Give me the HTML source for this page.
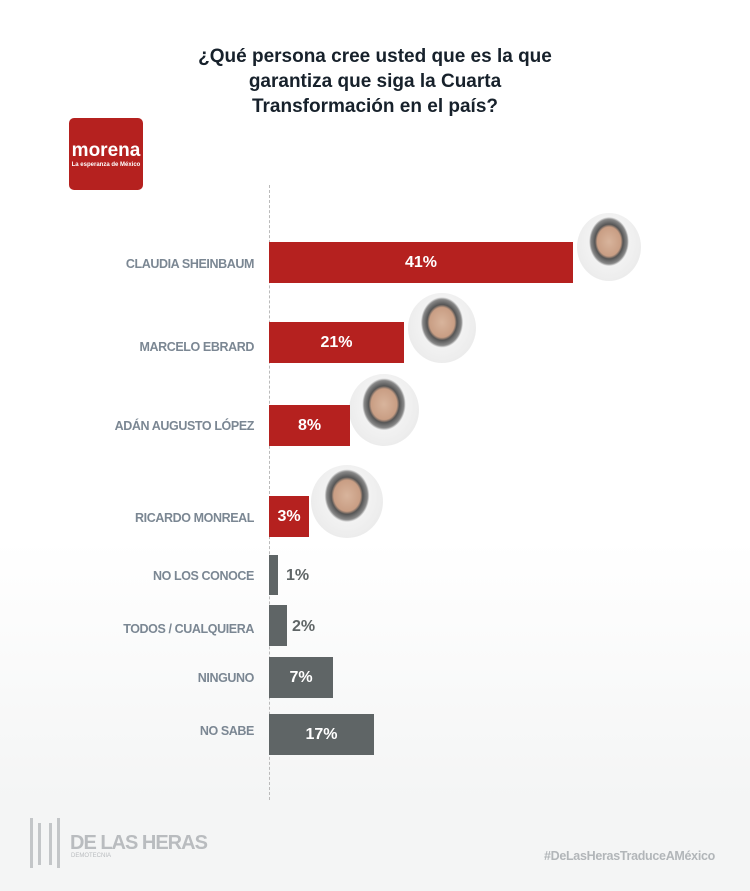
<!DOCTYPE html>
<html><head><meta charset="utf-8"><style>
body{margin:0}
.p{position:relative;width:750px;height:891px;overflow:hidden;background:linear-gradient(#fff 0,#fff 540px,#f4f5f5 800px,#f4f5f5 891px);font-family:"Liberation Sans",sans-serif}
.t{position:absolute;left:0;width:750px;top:44px;text-align:center;font-weight:bold;font-size:19px;line-height:25px;color:#17212b}
.lbl{position:absolute;right:496px;font-size:12.5px;font-weight:bold;color:#7b8793;white-space:nowrap;letter-spacing:-0.4px}
.bar{position:absolute;left:269px;color:#fff;font-weight:bold;font-size:16px;display:flex;align-items:center;justify-content:center}
.r{background:#b5211f}.g{background:#5f6566}
.out{position:absolute;font-weight:bold;font-size:16px;color:#5f6566}
.ph{position:absolute;border-radius:50%;background:radial-gradient(ellipse at 50% 42%,#d8b49c 0,#c99e84 26%,#555 31%,#888 40%,#f2f2f2 44%,#e6e6e6 100%)}
</style></head><body><div class="p">
<div class="t">¿Qué persona cree usted que es la que<br>garantiza que siga la Cuarta<br>Transformación en el país?</div>
<div style="position:absolute;left:69px;top:118px;width:74px;height:72px;background:#b5211f;border-radius:5px;color:#fff;text-align:center">
<div style="font-weight:bold;font-size:19px;margin-top:23px;line-height:20px">morena</div>
<div style="font-size:6px;font-weight:bold;line-height:8px">La esperanza de México</div></div>
<div style="position:absolute;left:269px;top:185px;height:615px;border-left:1px dashed #bbb"></div>

<div class="ph" style="left:577px;top:213px;width:64px;height:68px"></div>
<div class="ph" style="left:408px;top:293px;width:68px;height:70px"></div>
<div class="ph" style="left:349px;top:374px;width:70px;height:72px"></div>
<div class="ph" style="left:311px;top:465px;width:72px;height:73px"></div>

<div class="lbl" style="top:257px">CLAUDIA SHEINBAUM</div>
<div class="bar r" style="top:242px;width:304px;height:41px">41%</div>
<div class="lbl" style="top:340px">MARCELO EBRARD</div>
<div class="bar r" style="top:322px;width:135px;height:41px">21%</div>
<div class="lbl" style="top:419px">ADÁN AUGUSTO LÓPEZ</div>
<div class="bar r" style="top:405px;width:81px;height:41px">8%</div>
<div class="lbl" style="top:511px">RICARDO MONREAL</div>
<div class="bar r" style="top:496px;width:40px;height:41px">3%</div>
<div class="lbl" style="top:569px">NO LOS CONOCE</div>
<div class="bar g" style="top:555px;width:9px;height:40px"></div>
<div class="out" style="left:286px;top:567px">1%</div>
<div class="lbl" style="top:622px">TODOS / CUALQUIERA</div>
<div class="bar g" style="top:605px;width:18px;height:41px"></div>
<div class="out" style="left:292px;top:618px">2%</div>
<div class="lbl" style="top:671px">NINGUNO</div>
<div class="bar g" style="top:657px;width:64px;height:41px">7%</div>
<div class="lbl" style="top:724px">NO SABE</div>
<div class="bar g" style="top:714px;width:105px;height:41px">17%</div>

<div style="position:absolute;left:30px;top:818px;width:24px;height:50px;border-left:3px solid #c3c6c8;border-right:3px solid #c3c6c8"></div>
<div style="position:absolute;left:38px;top:823px;width:8px;height:42px;border-left:3px solid #c3c6c8;border-right:3px solid #c3c6c8"></div>
<div style="position:absolute;left:70px;top:832px;font-size:20px;color:#b9bcbf;font-weight:bold;letter-spacing:-1px">DE LAS HERAS</div>
<div style="position:absolute;left:71px;top:853px;font-size:6px;color:#b9bcbf">DEMOTECNIA</div>
<div style="position:absolute;right:35px;top:849px;font-size:12.5px;font-weight:bold;color:#b2b6b9;letter-spacing:-0.3px">#DeLasHerasTraduceAMéxico</div>
</div></body></html>
